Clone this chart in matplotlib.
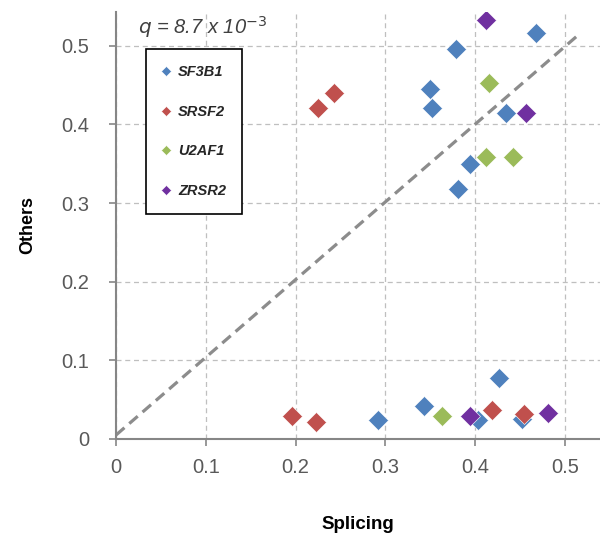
import numpy as np
import matplotlib.pyplot as plt

plt.rcParams['font.family'] = ['Liberation Sans', 'DejaVu Sans']

genes = ['SF3B1', 'SRSF2', 'U2AF1', 'ZRSR2']
colors = ['#4F81BD', '#C0504D', '#9BBB59', '#7030A0']

splicing = {
    'SF3B1': [0.468, 0.379, 0.350, 0.352, 0.434, 0.394, 0.381,
              0.292, 0.343, 0.403, 0.426, 0.452],
    'SRSF2': [0.243, 0.225, 0.196, 0.223, 0.419, 0.454],
    'U2AF1': [0.415, 0.412, 0.442, 0.363],
    'ZRSR2': [0.412, 0.457, 0.394, 0.481],
}
others = {
    'SF3B1': [0.516, 0.496, 0.445, 0.421, 0.414, 0.350, 0.318,
              0.024, 0.042, 0.024, 0.078, 0.025],
    'SRSF2': [0.440, 0.421, 0.029, 0.022, 0.037, 0.032],
    'U2AF1': [0.453, 0.358, 0.358, 0.029],
    'ZRSR2': [0.533, 0.414, 0.029, 0.033],
}

diag_x = [0.0, 0.514]
diag_y = [0.005, 0.513]

fig = plt.figure(figsize=(6, 5.46), dpi=100)
ax = fig.add_axes([0.1933, 0.196, 0.8067, 0.782])

ax.plot(diag_x, diag_y, color='#8C8C8C', lw=2.3, ls=(0, (3.5, 2)), zorder=2)

for g, c in zip(genes, colors):
    ax.plot(splicing[g], others[g], ls='none', marker='D', ms=10.5,
            color=c, mec='white', mew=0.4, label=g, zorder=3)

ax.set_xlim(0, 0.539)
ax.set_ylim(0, 0.543)
ax.set_xticks(np.arange(0, 0.51, 0.1))
ax.set_yticks(np.arange(0, 0.51, 0.1))
ax.set_xticklabels(['0', '0.1', '0.2', '0.3', '0.4', '0.5'])
ax.set_yticklabels(['0', '0.1', '0.2', '0.3', '0.4', '0.5'])
ax.tick_params(colors='#868686', labelcolor='#595959', labelsize=14.5,
               length=5, width=1.2)
ax.tick_params(axis='y', pad=14)
ax.tick_params(axis='x', pad=9)
ax.grid(True, color='#BFBFBF', ls=(0, (4, 3)), lw=0.9)
ax.set_axisbelow(True)
for s in ['top', 'right']:
    ax.spines[s].set_visible(False)
for s in ['left', 'bottom']:
    ax.spines[s].set_color('#868686')
    ax.spines[s].set_linewidth(1.5)

ax.set_xlabel('Splicing', fontsize=13.5, fontweight='bold', labelpad=28)
ax.set_ylabel('Others', fontsize=13, fontweight='bold', labelpad=18)

ax.text(0.045, 0.995, r'$q$ = 8.7 x 10$^{-3}$', transform=ax.transAxes,
        fontsize=14.5, style='italic', color='#404040', va='top')

leg = ax.legend(loc='upper left', bbox_to_anchor=(0.062, 0.913),
                borderaxespad=0, fancybox=False, edgecolor='black',
                framealpha=1, labelspacing=1.75, handlelength=0.6,
                handletextpad=0.5, borderpad=1.1, markerscale=0.5,
                prop={'size': 10.5, 'style': 'italic', 'weight': 'bold'})
leg.get_frame().set_linewidth(1.2)
for t in leg.get_texts():
    t.set_color('#262626')

fig.savefig('out.png', dpi=100)
